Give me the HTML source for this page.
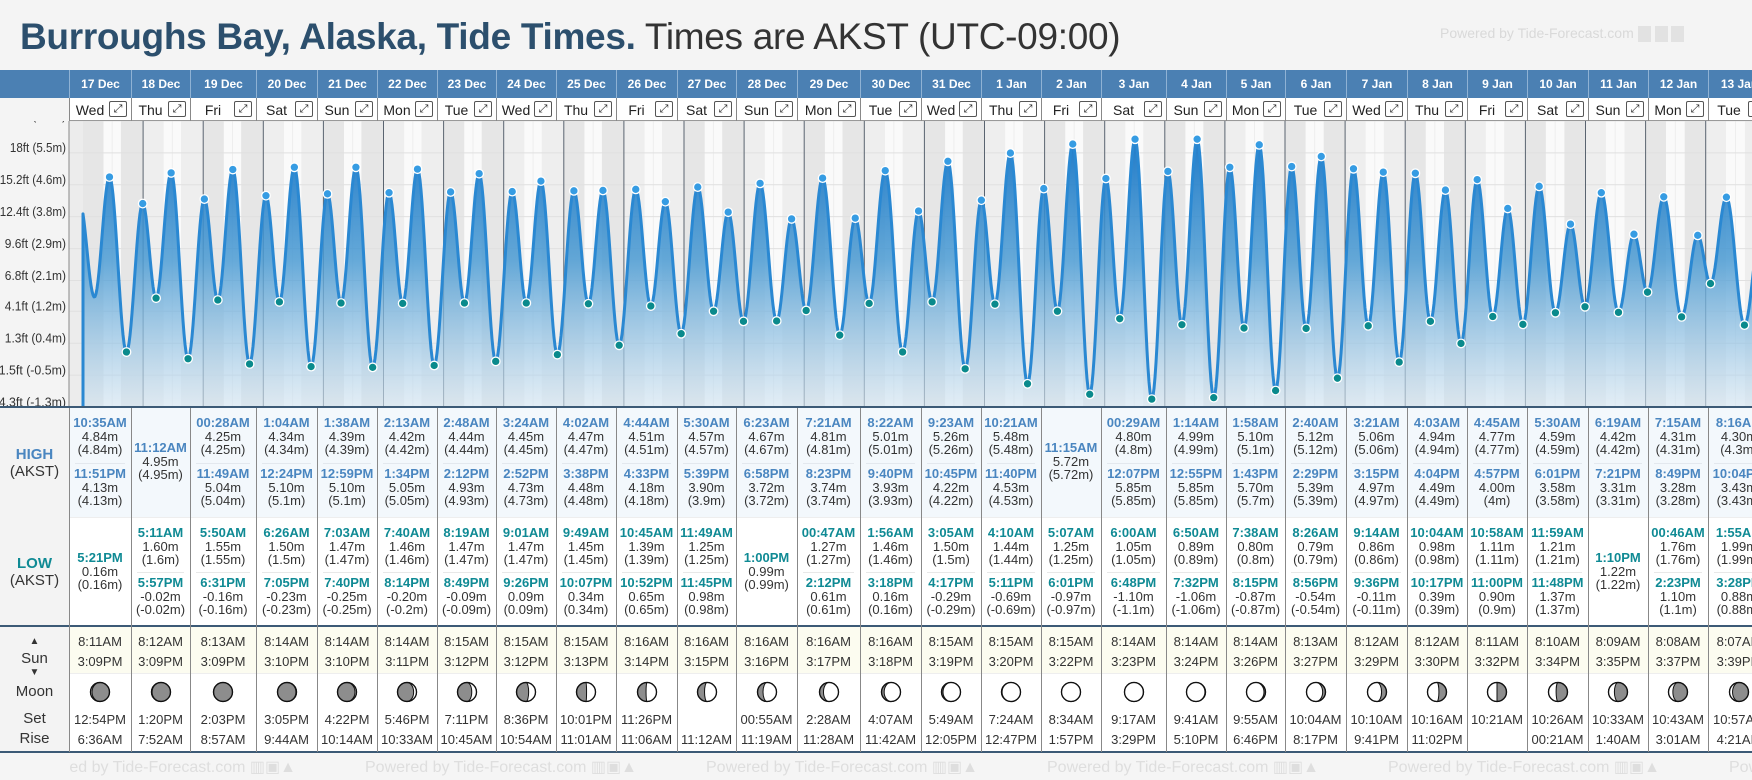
<!DOCTYPE html>
<html><head><meta charset="utf-8">
<style>
*{box-sizing:border-box;margin:0;padding:0}
body{width:1752px;height:780px;overflow:hidden;background:#f4f4f4;font-family:"Liberation Sans",Arial,sans-serif;color:#333}
#root{position:relative;width:1752px;height:780px;overflow:hidden}
.abs{position:absolute}
</style></head><body>
<div id="root">
  <div class="abs" style="left:20px;top:15px;font-size:37px;line-height:44px;white-space:nowrap;letter-spacing:-0.3px"><span style="font-weight:bold;color:#2c4f6d">Burroughs Bay, Alaska, Tide Times.</span> <span style="color:#333">Times are AKST (UTC-09:00)</span></div>
  <div class="abs" style="left:1440px;top:25px;font-size:14px;color:#d9d9d9;white-space:nowrap">Powered by Tide-Forecast.com <span style="display:inline-block;width:13px;height:16px;background:#e2e2e2;vertical-align:middle"></span> <span style="display:inline-block;width:13px;height:16px;background:#e2e2e2;vertical-align:middle"></span> <span style="display:inline-block;width:13px;height:16px;background:#e2e2e2;vertical-align:middle"></span></div>
  <div class="abs" style="left:0;top:70px;width:1752px;height:28px;background:#4b80b3"></div>
  <div class="abs" style="left:69px;top:98px;width:1683px;height:23px;background:#fff;border-bottom:1px solid #999"></div>
  <svg id="chart" class="abs" style="left:0;top:121px" width="1752" height="286" viewBox="0 121 1752 286"></svg>
  <div id="table"></div>
</div>
<script>
// ---------- DATA ----------
const dayLabels=["17 Dec","18 Dec","19 Dec","20 Dec","21 Dec","22 Dec","23 Dec","24 Dec","25 Dec","26 Dec","27 Dec","28 Dec","29 Dec","30 Dec","31 Dec","1 Jan","2 Jan","3 Jan","4 Jan","5 Jan","6 Jan","7 Jan","8 Jan","9 Jan","10 Jan","11 Jan","12 Jan","13 Jan"];
const weekdays=["Wed","Thu","Fri","Sat","Sun","Mon","Tue","Wed","Thu","Fri","Sat","Sun","Mon","Tue","Wed","Thu","Fri","Sat","Sun","Mon","Tue","Wed","Thu","Fri","Sat","Sun","Mon","Tue"];
const highTimes=[["10:35AM","11:51PM"],["11:12AM"],["00:28AM","11:49AM"],["1:04AM","12:24PM"],["1:38AM","12:59PM"],["2:13AM","1:34PM"],["2:48AM","2:12PM"],["3:24AM","2:52PM"],["4:02AM","3:38PM"],["4:44AM","4:33PM"],["5:30AM","5:39PM"],["6:23AM","6:58PM"],["7:21AM","8:23PM"],["8:22AM","9:40PM"],["9:23AM","10:45PM"],["10:21AM","11:40PM"],["11:15AM"],["00:29AM","12:07PM"],["1:14AM","12:55PM"],["1:58AM","1:43PM"],["2:40AM","2:29PM"],["3:21AM","3:15PM"],["4:03AM","4:04PM"],["4:45AM","4:57PM"],["5:30AM","6:01PM"],["6:19AM","7:21PM"],["7:15AM","8:49PM"],["8:16AM","10:04PM"]];
const highVals=[[4.84,4.13],[4.95],[4.25,5.04],[4.34,5.10],[4.39,5.10],[4.42,5.05],[4.44,4.93],[4.45,4.73],[4.47,4.48],[4.51,4.18],[4.57,3.90],[4.67,3.72],[4.81,3.74],[5.01,3.93],[5.26,4.22],[5.48,4.53],[5.72],[4.80,5.85],[4.99,5.85],[5.10,5.70],[5.12,5.39],[5.06,4.97],[4.94,4.49],[4.77,4.00],[4.59,3.58],[4.42,3.31],[4.31,3.28],[4.30,3.43]];
const lowTimes=[["5:21PM"],["5:11AM","5:57PM"],["5:50AM","6:31PM"],["6:26AM","7:05PM"],["7:03AM","7:40PM"],["7:40AM","8:14PM"],["8:19AM","8:49PM"],["9:01AM","9:26PM"],["9:49AM","10:07PM"],["10:45AM","10:52PM"],["11:49AM","11:45PM"],["1:00PM"],["00:47AM","2:12PM"],["1:56AM","3:18PM"],["3:05AM","4:17PM"],["4:10AM","5:11PM"],["5:07AM","6:01PM"],["6:00AM","6:48PM"],["6:50AM","7:32PM"],["7:38AM","8:15PM"],["8:26AM","8:56PM"],["9:14AM","9:36PM"],["10:04AM","10:17PM"],["10:58AM","11:00PM"],["11:59AM","11:48PM"],["1:10PM"],["00:46AM","2:23PM"],["1:55AM","3:28PM"]];
const lowVals=[[0.16],[1.60,-0.02],[1.55,-0.16],[1.50,-0.23],[1.47,-0.25],[1.46,-0.20],[1.47,-0.09],[1.47,0.09],[1.45,0.34],[1.39,0.65],[1.25,0.98],[0.99],[1.27,0.61],[1.46,0.16],[1.50,-0.29],[1.44,-0.69],[1.25,-0.97],[1.05,-1.10],[0.89,-1.06],[0.80,-0.87],[0.79,-0.54],[0.86,-0.11],[0.98,0.39],[1.11,0.90],[1.21,1.37],[1.22],[1.76,1.10],[1.99,0.88]];
const sunrise=["8:11AM","8:12AM","8:13AM","8:14AM","8:14AM","8:14AM","8:15AM","8:15AM","8:15AM","8:16AM","8:16AM","8:16AM","8:16AM","8:16AM","8:15AM","8:15AM","8:15AM","8:14AM","8:14AM","8:14AM","8:13AM","8:12AM","8:12AM","8:11AM","8:10AM","8:09AM","8:08AM","8:07AM"];
const sunset=["3:09PM","3:09PM","3:09PM","3:10PM","3:10PM","3:11PM","3:12PM","3:12PM","3:13PM","3:14PM","3:15PM","3:16PM","3:17PM","3:18PM","3:19PM","3:20PM","3:22PM","3:23PM","3:24PM","3:26PM","3:27PM","3:29PM","3:30PM","3:32PM","3:34PM","3:35PM","3:37PM","3:39PM"];
const moonSet=["12:54PM","1:20PM","2:03PM","3:05PM","4:22PM","5:46PM","7:11PM","8:36PM","10:01PM","11:26PM","","00:55AM","2:28AM","4:07AM","5:49AM","7:24AM","8:34AM","9:17AM","9:41AM","9:55AM","10:04AM","10:10AM","10:16AM","10:21AM","10:26AM","10:33AM","10:43AM","10:57AM"];
const moonRise=["6:36AM","7:52AM","8:57AM","9:44AM","10:14AM","10:33AM","10:45AM","10:54AM","11:01AM","11:06AM","11:12AM","11:19AM","11:28AM","11:42AM","12:05PM","12:47PM","1:57PM","3:29PM","5:10PM","6:46PM","8:17PM","9:41PM","11:02PM","","00:21AM","1:40AM","3:01AM","4:21AM"];
// moon lit fraction, positive = waxing (lit right), negative = waning (lit left)
const moonPhase=[-0.08,-0.03,0,0.03,0.08,0.15,0.25,0.36,0.47,0.55,0.63,0.71,0.79,0.86,0.92,0.97,1,-0.99,-0.97,-0.92,-0.85,-0.74,-0.6,-0.5,-0.4,-0.31,-0.23,-0.16];
// extrema just outside the displayed range (day offset relative to 17 Dec, metres)
const edgeTimes=[-0.06,0.19];
const edgeVals=[4.2,1.63];
const tickLabels=["20.8ft (6.3m)","18ft (5.5m)","15.2ft (4.6m)","12.4ft (3.8m)","9.6ft (2.9m)","6.8ft (2.1m)","4.1ft (1.2m)","1.3ft (0.4m)","-1.5ft (-0.5m)","-4.3ft (-1.3m)"];
const tickVals=[6.34,5.486,4.633,3.78,2.926,2.073,1.25,0.396,-0.457,-1.31];

// ---------- LAYOUT ----------
const colX=[69,131,190,256,317,377,437,496,556,616,677,736,797,860,921,981,1041,1101,1166,1226,1285,1346,1407,1467,1527,1588,1648,1708,1770];
const X0=83, DAYW=60.1, K=37.4, Y0=358.0;
const xScale=d=>X0+d*DAYW;
const yScale=h=>Y0-h*K;
function parseT(s){const m=s.match(/(\d+):(\d+)(AM|PM)/);let h=(+m[1])%12;if(m[3]==="PM")h+=12;return (h+(+m[2])/60)/24;}
const NS="http://www.w3.org/2000/svg";
const svg=document.getElementById('chart');
function sv(tag,attrs,parent){const e=document.createElementNS(NS,tag);for(const k in attrs)e.setAttribute(k,attrs[k]);(parent||svg).appendChild(e);return e;}

const defs=sv('defs',{});
const cp=sv('clipPath',{id:'clip'},defs);sv('rect',{x:69,y:121,width:1683,height:286},cp);
const lg=sv('linearGradient',{id:'fillg',x1:0,y1:140,x2:0,y2:407,gradientUnits:'userSpaceOnUse'},defs);
sv('stop',{offset:'0','stop-color':'#1675c6','stop-opacity':'0.95'},lg);
sv('stop',{offset:'0.45','stop-color':'#4b9bd3','stop-opacity':'0.85'},lg);
sv('stop',{offset:'1','stop-color':'#d3e5f2','stop-opacity':'0.6'},lg);

const g=sv('g',{'clip-path':'url(#clip)'});
sv('rect',{x:69,y:121,width:1683,height:286,fill:'#ececec'},g);
for(let i=0;i<dayLabels.length;i++){
  const n=sv('rect',{x:xScale(i),y:121,width:DAYW,height:286,fill:i%2?'#eeeeee':'#e6e6e6'},g);
  
  
  const a=xScale(i+parseT(sunrise[i])),b=xScale(i+parseT(sunset[i]));
  const d=sv('rect',{x:a,y:121,width:b-a,height:286,fill:'#fafafa'},g);
  
  
  sv('line',{x1:(a+b)/2,y1:121,x2:(a+b)/2,y2:407,stroke:'#eeeeee','stroke-width':1},g);
}
tickVals.forEach(v=>{sv('line',{x1:69,x2:1752,y1:yScale(v),y2:yScale(v),stroke:'#e0e0e0','stroke-width':1},g);});
for(let i=1;i<dayLabels.length;i++){const l=sv('line',{x1:xScale(i),x2:xScale(i),y1:121,y2:407,stroke:'#5a6470','stroke-width':1},g);
  
  }
const ext=[];
for(let i=0;i<edgeTimes.length;i++)ext.push({d:edgeTimes[i],h:edgeVals[i],type:'edge'});
for(let i=0;i<dayLabels.length;i++){
  highTimes[i].forEach((t,j)=>ext.push({d:i+parseT(t),h:highVals[i][j],type:'high'}));
  lowTimes[i].forEach((t,j)=>ext.push({d:i+parseT(t),h:lowVals[i][j],type:'low'}));
}
ext.sort((a,b)=>a.d-b.d);
let pts=[];
for(let k=0;k<ext.length-1;k++){
  const A=ext[k],B=ext[k+1];const xa=xScale(A.d),xb=xScale(B.d);
  for(let x=Math.ceil(xa);x<xb;x++){if(x<X0)continue;const t=(x-xa)/(xb-xa);const h=B.h+(A.h-B.h)*(1+Math.cos(Math.PI*t))/2;pts.push([x,yScale(h)]);}
}
const last=pts[pts.length-1];
let dpath='M'+X0+',407 '+pts.map(p=>'L'+p[0]+','+p[1].toFixed(1)).join(' ');
const area=sv('path',{d:dpath+' L'+last[0]+',407 Z',fill:'url(#fillg)'},g);


const line=sv('path',{d:dpath,fill:'none',stroke:'#2a88d2','stroke-width':3,'stroke-linejoin':'round'},g);


ext.forEach(e=>{if(e.type==='edge')return;
  const c=sv('circle',{cx:xScale(e.d),cy:yScale(e.h),r:4.3,fill:e.type==='high'?'#369ce3':'#0a8a8c',stroke:'#fff','stroke-width':1.3},g);
  
  });
tickLabels.forEach((s,i)=>{const t=sv('text',{x:66,y:yScale(tickVals[i])-4,'text-anchor':'end','dominant-baseline':'middle','font-size':12.5,fill:'#333','font-family':'Liberation Sans, sans-serif',textLength:s.length*5.1,lengthAdjust:'spacingAndGlyphs'});t.textContent=s;
  
  });
sv('line',{x1:69,x2:69,y1:121,y2:407,stroke:'#888','stroke-width':1});
const nb=sv('circle',{cx:1737,cy:424,r:15,fill:'#8a8a8a',opacity:0.85});


const nt=sv('text',{x:1737,y:430,'text-anchor':'middle','font-size':18,fill:'#fff','font-weight':'bold','font-family':'Liberation Sans, sans-serif'});nt.textContent='›';

// ---------- TABLE ----------
const root=document.getElementById('table');
function div(css,parent,txt){const e=document.createElement('div');e.style.cssText=css;if(txt!==undefined)e.textContent=txt;(parent||root).appendChild(e);return e;}
const rh=div('position:absolute;left:0;top:407px;width:1752px;height:110px;background:#f3f8fc');


const rl=div('position:absolute;left:0;top:517px;width:1752px;height:109px;background:#fff;border-top:1px solid #eee');


const rs=div('position:absolute;left:0;top:626px;width:1752px;height:47px;background:#fcfcf0');


const rm=div('position:absolute;left:0;top:673px;width:1752px;height:79px;background:#fff;border-top:1px solid #eee');


div('position:absolute;left:0;top:407px;width:69px;height:345px;background:#f3f3f3');
div('position:absolute;left:0;top:752px;width:1752px;height:28px;background:#f5f5f5');
const ft=div('position:absolute;left:69px;top:752px;width:1683px;height:28px;overflow:hidden');


for(let k=0;k<6;k++){div('position:absolute;left:'+(k*341-45)+'px;top:5px;font-size:16px;color:#dedede;white-space:nowrap',ft,'Powered by Tide-Forecast.com ▥▣▲');}
div('position:absolute;left:0;top:406px;width:1752px;height:2px;background:#3c5a76');
div('position:absolute;left:0;top:625px;width:1752px;height:2px;background:#3c5a76');
div('position:absolute;left:0;top:751px;width:1752px;height:2px;background:#3c5a76');
div('position:absolute;left:69px;top:408px;width:1px;height:344px;background:#888');
function lab(top,html,name){const e=div('position:absolute;left:0;width:69px;text-align:center;top:'+top+'px;font-size:15px;line-height:17px');e.innerHTML=html;
  
  }
lab(446,'<b style="color:#4a86c0">HIGH</b><br>(AKST)','high-label');
lab(555,'<b style="color:#0f8a94">LOW</b><br>(AKST)','low-label');
lab(631,'<span style="font-size:10px">▲</span><br>Sun<br><span style="font-size:10px;position:relative;top:-5px">▼</span>','sun-label');
lab(683,'Moon','moon-label');
lab(710,'Set','moon-set-label');
lab(730,'Rise','moon-rise-label');

function fmtP(v){return '('+parseFloat(v.toFixed(2))+'m)';}
function entry(parent,cx,top,time,val,color,name){
  const t=div('position:absolute;left:'+(cx-40)+'px;width:80px;top:'+top+'px;text-align:center;font-size:13px;line-height:14px;font-weight:bold;color:'+color,root,time);
  
  
  const v=div('position:absolute;left:'+(cx-40)+'px;width:80px;top:'+(top+14)+'px;text-align:center;font-size:13px;line-height:14px;color:#333',root,val.toFixed(2)+'m');
  
  
  const p=div('position:absolute;left:'+(cx-40)+'px;width:80px;top:'+(top+27)+'px;text-align:center;font-size:13px;line-height:14px;color:#333',root,fmtP(val));
  
  
}
function moonSvg(f){
  const r=9.5,cx=11,cy=11;
  const a=Math.abs(f);const rx=(r*Math.abs(1-2*a)).toFixed(2);
  const sweep=a<0.5?0:1;
  const flip=f<0?' transform="translate(22,0) scale(-1,1)"':'';
  return '<svg width="22" height="22"><circle cx="11" cy="11" r="9.5" fill="#8d8d8d" stroke="#111" stroke-width="1.2"/>'+
    (a>0.005?'<path'+flip+' d="M'+cx+','+(cy-r)+' A'+r+','+r+' 0 0 1 '+cx+','+(cy+r)+' A'+rx+','+r+' 0 0 '+sweep+' '+cx+','+(cy-r)+' Z" fill="#fff" stroke="#111" stroke-width="1"/>':'')+
    '<circle cx="11" cy="11" r="9.5" fill="none" stroke="#111" stroke-width="1.3"/></svg>';
}
for(let i=0;i<dayLabels.length;i++){
  const x0=colX[i],x1=colX[i+1],cx=(x0+x1)/2;
  const dl=div('position:absolute;left:'+x0+'px;top:70px;width:'+(x1-x0)+'px;height:28px;line-height:28px;text-align:center;color:#fff;font-weight:bold;font-size:12px;border-left:1px solid #8fb2d4',root,dayLabels[i]);
  
  
  div('position:absolute;left:'+x0+'px;top:98px;width:'+(x1-x0)+'px;height:23px;border-left:1px solid #888');
  const wd=div('position:absolute;left:'+(x0+2)+'px;top:102px;width:'+(x1-x0-24)+'px;text-align:center;font-size:14px;color:#222',root,weekdays[i]);
  
  
  const ic=div('position:absolute;left:'+(x1-22)+'px;top:101px;width:18px;height:16px;border:1px solid #555;border-radius:2px;font-size:11px;line-height:14px;text-align:center;color:#222;background:#fff',root,'⤢');
  
  
  div('position:absolute;left:'+x0+'px;top:408px;width:1px;height:344px;background:#888');
  const nh=highTimes[i].length;
  if(nh===2){
    entry(root,cx,416,highTimes[i][0],highVals[i][0],'#4a86c0','high-tide');
    div('position:absolute;left:'+(x0+6)+'px;top:463px;width:'+(x1-x0-12)+'px;height:1px;background:#e3e8ee');
    entry(root,cx,467,highTimes[i][1],highVals[i][1],'#4a86c0','high-tide');
  } else entry(root,cx,441,highTimes[i][0],highVals[i][0],'#4a86c0','high-tide');
  const nl=lowTimes[i].length;
  if(nl===2){
    entry(root,cx,526,lowTimes[i][0],lowVals[i][0],'#0f8a94','low-tide');
    div('position:absolute;left:'+(x0+6)+'px;top:572px;width:'+(x1-x0-12)+'px;height:1px;background:#e8e8e8');
    entry(root,cx,576,lowTimes[i][1],lowVals[i][1],'#0f8a94','low-tide');
  } else entry(root,cx,551,lowTimes[i][0],lowVals[i][0],'#0f8a94','low-tide');
  const sr=div('position:absolute;left:'+(cx-35)+'px;width:70px;top:634px;text-align:center;font-size:13px;color:#333',root,sunrise[i]);
  
  
  const ss=div('position:absolute;left:'+(cx-35)+'px;width:70px;top:654px;text-align:center;font-size:13px;color:#333',root,sunset[i]);
  
  
  const mi=div('position:absolute;left:'+(cx-11)+'px;top:681px;width:22px;height:22px');
  mi.innerHTML=moonSvg(moonPhase[i]);
  
  
  const ms=div('position:absolute;left:'+(cx-35)+'px;width:70px;top:712px;text-align:center;font-size:13px;color:#333',root,moonSet[i]);
  
  
  const mr=div('position:absolute;left:'+(cx-35)+'px;width:70px;top:732px;text-align:center;font-size:13px;color:#333',root,moonRise[i]);
  
  
}
</script>
</body></html>
